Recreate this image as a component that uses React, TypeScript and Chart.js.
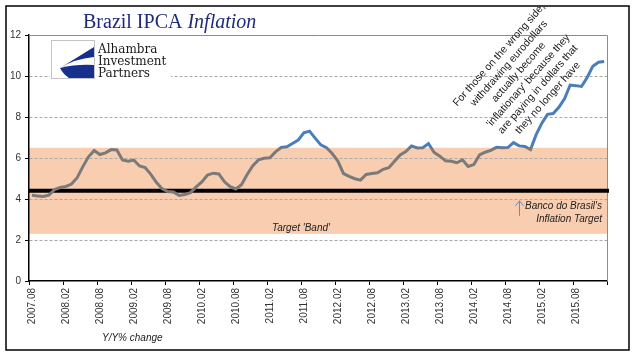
import React, { useEffect, useRef } from 'react';
import { Chart, registerables } from 'chart.js';

Chart.register(...registerables);

// ---------- DATA ----------
const CATEGORIES: string[] = (
  '2007.08 2007.09 2007.10 2007.11 2007.12 ' +
  '2008.01 2008.02 2008.03 2008.04 2008.05 2008.06 2008.07 2008.08 2008.09 2008.10 2008.11 2008.12 ' +
  '2009.01 2009.02 2009.03 2009.04 2009.05 2009.06 2009.07 2009.08 2009.09 2009.10 2009.11 2009.12 ' +
  '2010.01 2010.02 2010.03 2010.04 2010.05 2010.06 2010.07 2010.08 2010.09 2010.10 2010.11 2010.12 ' +
  '2011.01 2011.02 2011.03 2011.04 2011.05 2011.06 2011.07 2011.08 2011.09 2011.10 2011.11 2011.12 ' +
  '2012.01 2012.02 2012.03 2012.04 2012.05 2012.06 2012.07 2012.08 2012.09 2012.10 2012.11 2012.12 ' +
  '2013.01 2013.02 2013.03 2013.04 2013.05 2013.06 2013.07 2013.08 2013.09 2013.10 2013.11 2013.12 ' +
  '2014.01 2014.02 2014.03 2014.04 2014.05 2014.06 2014.07 2014.08 2014.09 2014.10 2014.11 2014.12 ' +
  '2015.01 2015.02 2015.03 2015.04 2015.05 2015.06 2015.07 2015.08 2015.09 2015.10 2015.11 2015.12 ' +
  '2016.01'
).split(' ');

const IPCA_2007 = [4.18, 4.15, 4.12, 4.19, 4.46];
const IPCA_2008 = [4.56, 4.61, 4.73, 5.04, 5.58, 6.06, 6.37, 6.17, 6.25, 6.41, 6.39, 5.9];
const IPCA_2009 = [5.84, 5.9, 5.61, 5.53, 5.2, 4.8, 4.5, 4.36, 4.34, 4.17, 4.22, 4.31];
const IPCA_2010 = [4.59, 4.83, 5.17, 5.26, 5.22, 4.84, 4.6, 4.49, 4.7, 5.2, 5.63, 5.91];
const IPCA_2011 = [5.99, 6.01, 6.3, 6.51, 6.55, 6.71, 6.87, 7.23, 7.31, 6.97, 6.64, 6.5];
const IPCA_2012 = [6.22, 5.85, 5.24, 5.1, 4.99, 4.92, 5.2, 5.24, 5.28, 5.45, 5.53, 5.84];
const IPCA_2013 = [6.15, 6.31, 6.59, 6.49, 6.5, 6.7, 6.27, 6.09, 5.86, 5.84, 5.77, 5.91];
const IPCA_2014 = [5.59, 5.68, 6.15, 6.28, 6.37, 6.52, 6.5, 6.51, 6.75, 6.59, 6.56, 6.41];
const IPCA_2015 = [7.14, 7.7, 8.13, 8.17, 8.47, 8.89, 9.56, 9.53, 9.49, 9.93, 10.48, 10.67];
const IPCA_2016 = [10.71];

const IPCA: number[] = [
  ...IPCA_2007, ...IPCA_2008, ...IPCA_2009, ...IPCA_2010, ...IPCA_2011,
  ...IPCA_2012, ...IPCA_2013, ...IPCA_2014, ...IPCA_2015, ...IPCA_2016,
];

const Y_TICKS = [0, 2, 4, 6, 8, 10, 12];
const TICK_EVERY = 6;
const BAND_LOW = 2.3;
const BAND_HIGH = 6.5;
const TARGET = 4.4;

const TITLE_MAIN = 'Brazil IPCA ';
const TITLE_ITALIC = 'Inflation';
const LOGO_LINES = ['Alhambra', 'Investment', 'Partners'];
const ANNOTATION_LINES = [
  'For those on the wrong side,',
  'withdrawing eurodollars',
  'actually become',
  "'inflationary' because they",
  'are paying in dollars that',
  'they no longer have',
];
const BAND_LABEL = "Target 'Band'";
const TARGET_LABEL = ["Banco do Brasil's", 'Inflation Target'];
const UNIT_LABEL = 'Y/Y% change';

// ---------- STYLE ----------
const GRAY = '#7a7a7a';
const BLUE = '#4a7ebb';
const BAND_COLOR = '#f8cdb0';
const SANS = "'Liberation Sans', Arial, sans-serif";
const SERIF = "'Liberation Serif', 'Times New Roman', serif";

const decorPlugin = {
  id: 'decor',
  beforeDraw(chart: any) {
    const { ctx, chartArea: a, scales } = chart;
    const y = scales.y;
    const yt = y.getPixelForValue(BAND_HIGH);
    const yb = y.getPixelForValue(BAND_LOW);
    ctx.save();
    ctx.fillStyle = BAND_COLOR;
    ctx.fillRect(a.left, yt, a.right - a.left, yb - yt);
    ctx.restore();
  },
  beforeDatasetsDraw(chart: any) {
    const { ctx, chartArea: a, scales } = chart;
    const yt = scales.y.getPixelForValue(TARGET);
    ctx.save();
    // plot border top / right
    ctx.strokeStyle = '#8c8c8c';
    ctx.lineWidth = 1;
    ctx.beginPath();
    ctx.moveTo(a.left, Math.round(a.top) + 0.5);
    ctx.lineTo(Math.round(a.right) + 0.5, Math.round(a.top) + 0.5);
    ctx.lineTo(Math.round(a.right) + 0.5, a.bottom);
    ctx.stroke();
    // target line
    ctx.strokeStyle = '#000';
    ctx.lineWidth = 4;
    ctx.beginPath();
    ctx.moveTo(a.left, yt);
    ctx.lineTo(a.right + 2, yt);
    ctx.stroke();
    ctx.restore();
  },
  afterDraw(chart: any) {
    const { ctx, scales } = chart;
    const y = scales.y;
    ctx.save();

    // outer border
    ctx.strokeStyle = '#000';
    ctx.lineWidth = 1.5;
    ctx.strokeRect(6, 6, 623, 344);

    // title
    ctx.fillStyle = '#1f2a78';
    ctx.textBaseline = 'alphabetic';
    ctx.textAlign = 'left';
    ctx.font = `20px ${SERIF}`;
    ctx.fillText(TITLE_MAIN, 83, 28);
    const w = ctx.measureText(TITLE_MAIN).width;
    ctx.font = `italic 20px ${SERIF}`;
    ctx.fillText(TITLE_ITALIC, 83 + w, 28);

    // logo
    ctx.fillStyle = '#fff';
    ctx.fillRect(50, 40, 121, 40);
    ctx.strokeStyle = '#c4c4c4';
    ctx.lineWidth = 1;
    ctx.strokeRect(51.5, 40.5, 43, 38);
    ctx.fillStyle = '#16308e';
    ctx.beginPath();
    ctx.moveTo(94, 47);
    ctx.lineTo(60, 68);
    ctx.quadraticCurveTo(74, 59, 94, 57);
    ctx.closePath();
    ctx.fill();
    ctx.beginPath();
    ctx.moveTo(60, 68);
    ctx.quadraticCurveTo(76, 64, 94, 65);
    ctx.lineTo(94, 78);
    ctx.lineTo(69, 78);
    ctx.quadraticCurveTo(63, 74, 60, 68);
    ctx.closePath();
    ctx.fill();
    ctx.fillStyle = '#1a1a1a';
    ctx.font = `12px 'DejaVu Serif', serif`;
    LOGO_LINES.forEach((t, i) => ctx.fillText(t, 98, 52.5 + i * 12.3));

    // band label
    ctx.fillStyle = '#222';
    ctx.font = `italic 10px ${SANS}`;
    ctx.fillText(BAND_LABEL, 272, y.getPixelForValue(BAND_LOW) - 3);

    // target label + arrow
    ctx.textAlign = 'right';
    ctx.fillText(TARGET_LABEL[0], 602, 209);
    ctx.fillText(TARGET_LABEL[1], 602, 222);
    ctx.strokeStyle = '#6a8db5';
    ctx.lineWidth = 1;
    const ty = y.getPixelForValue(TARGET);
    ctx.beginPath();
    ctx.moveTo(519.5, ty + 10);
    ctx.lineTo(519.5, ty + 25);
    ctx.moveTo(515.5, ty + 15);
    ctx.lineTo(519.5, ty + 10);
    ctx.lineTo(523.5, ty + 15);
    ctx.stroke();

    // unit label
    ctx.textAlign = 'left';
    ctx.fillStyle = '#222';
    ctx.font = `italic 10px ${SANS}`;
    ctx.fillText(UNIT_LABEL, 102, 341);

    // rotated annotation
    ctx.translate(523.5, 76.5);
    ctx.rotate((-48.5 * Math.PI) / 180);
    ctx.textAlign = 'center';
    ctx.textBaseline = 'middle';
    ctx.fillStyle = '#1a1a1a';
    ctx.font = `10.5px ${SANS}`;
    ANNOTATION_LINES.forEach((t, i) => ctx.fillText(t, 0, (i - 2.5) * 13));

    ctx.restore();
  },
};

export default function App() {
  const ref = useRef<HTMLCanvasElement | null>(null);

  useEffect(() => {
    if (!ref.current) return;
    const chart = new Chart(ref.current, {
      type: 'line',
      data: {
        labels: CATEGORIES,
        datasets: [
          {
            data: IPCA,
            borderWidth: 3,
            pointRadius: 0,
            tension: 0,
            borderColor: (c: any) => {
              const ch = c.chart;
              const a = ch.chartArea;
              if (!a) return GRAY;
              const yp = ch.scales.y.getPixelForValue(BAND_HIGH);
              const g = ch.ctx.createLinearGradient(0, a.top, 0, a.bottom);
              const f = Math.min(1, Math.max(0, (yp - a.top) / (a.bottom - a.top)));
              g.addColorStop(0, BLUE);
              g.addColorStop(f, BLUE);
              g.addColorStop(f, GRAY);
              g.addColorStop(1, GRAY);
              return g;
            },
          },
        ],
      },
      options: {
        animation: false,
        responsive: false,
        devicePixelRatio: 1,
        layout: { padding: { top: 35, right: 34, bottom: 0, left: 0 } },
        plugins: { legend: { display: false }, tooltip: { enabled: false } },
        scales: {
          x: {
            type: 'category',
            offset: true,
            grid: {
              offset: true,
              drawOnChartArea: false,
              drawTicks: true,
              tickLength: 4,
              color: 'rgba(0,0,0,0)',
              tickColor: (c: any) =>
                c.type === 'tick' ? (c.index % TICK_EVERY === 0 ? '#000' : 'rgba(0,0,0,0)') : '#000',
            },
            border: { display: true, color: '#000', width: 1.5 },
            ticks: {
              autoSkip: false,
              maxRotation: 90,
              minRotation: 90,
              padding: 3,
              color: '#333',
              font: { family: SANS, size: 10 },
              callback: (_v: any, i: number) => (i % TICK_EVERY === 0 ? CATEGORIES[i] : ''),
            },
            afterFit: (s: any) => {
              s.height = 80;
            },
          },
          y: {
            min: Y_TICKS[0],
            max: Y_TICKS[Y_TICKS.length - 1],
            ticks: {
              stepSize: 2,
              padding: 4,
              color: '#333',
              font: { family: SANS, size: 10 },
            },
            grid: {
              color: (c: any) =>
                c.tick && (c.tick.value === Y_TICKS[0] || c.tick.value === Y_TICKS[Y_TICKS.length - 1])
                  ? 'rgba(0,0,0,0)'
                  : '#a8a8a8',
              tickColor: '#000',
              tickLength: 4,
              lineWidth: 1,
            },
            border: { display: true, color: '#000', width: 1.5, dash: [3, 2] },
            afterFit: (s: any) => {
              s.width = 29;
            },
          },
        },
      },
      plugins: [decorPlugin],
    } as any);
    return () => chart.destroy();
  }, []);

  return (
    <div style={{ position: 'fixed', left: 0, top: 0, width: 641, height: 361, background: '#fff' }}>
      <canvas ref={ref} width={641} height={361} style={{ display: 'block' }} />
    </div>
  );
}
